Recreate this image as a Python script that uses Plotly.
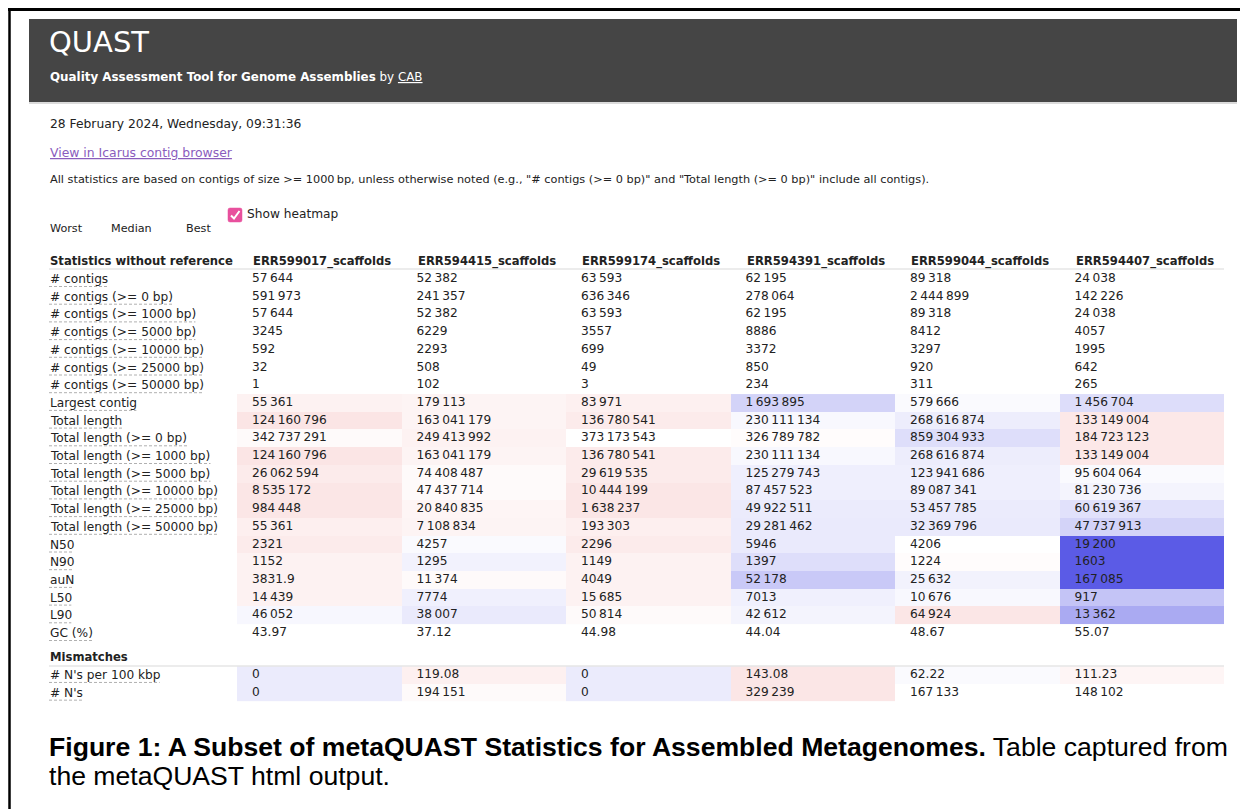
import plotly.graph_objects as go

# page is 1248x809; the HTML body adds an 8px margin, so the figure is 1240x801
PAGE_OFF = 8
FW, FH = 1240, 801

# ---------------- data ----------------
columns = ["ERR599017_scaffolds", "ERR594415_scaffolds", "ERR599174_scaffolds",
           "ERR594391_scaffolds", "ERR599044_scaffolds", "ERR594407_scaffolds"]

row_labels = ["# contigs", "# contigs (>= 0 bp)", "# contigs (>= 1000 bp)",
              "# contigs (>= 5000 bp)", "# contigs (>= 10000 bp)",
              "# contigs (>= 25000 bp)", "# contigs (>= 50000 bp)",
              "Largest contig", "Total length", "Total length (>= 0 bp)",
              "Total length (>= 1000 bp)", "Total length (>= 5000 bp)",
              "Total length (>= 10000 bp)", "Total length (>= 25000 bp)",
              "Total length (>= 50000 bp)", "N50", "N90", "auN", "L50", "L90",
              "GC (%)"]
mismatch_labels = ["# N's per 100 kbp", "# N's"]

err599017 = [57644, 591973, 57644, 3245, 592, 32, 1, 55361, 124160796, 342737291,
             124160796, 26062594, 8535172, 984448, 55361, 2321, 1152, 3831.9,
             14439, 46052, 43.97]
err594415 = [52382, 241357, 52382, 6229, 2293, 508, 102, 179113, 163041179,
             249413992, 163041179, 74408487, 47437714, 20840835, 7108834, 4257,
             1295, 11374, 7774, 38007, 37.12]
err599174 = [63593, 636346, 63593, 3557, 699, 49, 3, 83971, 136780541, 373173543,
             136780541, 29619535, 10444199, 1638237, 193303, 2296, 1149, 4049,
             15685, 50814, 44.98]
err594391 = [62195, 278064, 62195, 8886, 3372, 850, 234, 1693895, 230111134,
             326789782, 230111134, 125279743, 87457523, 49922511, 29281462, 5946,
             1397, 52178, 7013, 42612, 44.04]
err599044 = [89318, 2444899, 89318, 8412, 3297, 920, 311, 579666, 268616874,
             859304933, 268616874, 123941686, 89087341, 53457785, 32369796, 4206,
             1224, 25632, 10676, 64924, 48.67]
err594407 = [24038, 142226, 24038, 4057, 1995, 642, 265, 1456704, 133149004,
             184723123, 133149004, 95604064, 81230736, 60619367, 47737913, 19200,
             1603, 167085, 917, 13362, 55.07]
series = [err599017, err594415, err599174, err594391, err599044, err594407]

mismatch_values = [[0, 0], [119.08, 194151], [0, 0], [143.08, 329239],
                   [62.22, 167133], [111.23, 148102]]

# heatmap score: -1 worst (red) .. 0 median .. +1 best (blue)
heat_rows_start = 7  # "Largest contig"
heat = [
    [-0.08, -0.07, -0.09, 0.27, 0.03, 0.21],   # Largest contig
    [-0.16, -0.07, -0.12, 0.04, 0.11, -0.14],  # Total length
    [-0.03, -0.08, 0.00, -0.02, 0.20, -0.14],  # Total length (>= 0 bp)
    [-0.16, -0.07, -0.12, 0.04, 0.11, -0.14],  # Total length (>= 1000 bp)
    [-0.12, -0.03, -0.12, 0.10, 0.10, 0.03],   # >= 5000
    [-0.15, -0.03, -0.15, 0.10, 0.10, 0.07],   # >= 10000
    [-0.15, -0.06, -0.15, 0.12, 0.12, 0.18],   # >= 25000
    [-0.10, -0.07, -0.10, 0.13, 0.13, 0.27],   # >= 50000
    [-0.12, 0.03, -0.12, 0.13, 0.00, 1.00],    # N50
    [-0.08, 0.08, -0.08, 0.20, -0.02, 1.00],   # N90
    [-0.08, -0.03, -0.08, 0.33, 0.08, 1.00],   # auN
    [-0.08, 0.09, -0.08, 0.09, 0.04, 0.36],    # L50
    [0.05, 0.13, -0.03, 0.07, -0.15, 0.52],    # L90
]
mismatch_heat = [
    [0.12, -0.09, 0.12, -0.15, 0.03, -0.06],
    [0.12, -0.03, 0.12, -0.15, 0.00, 0.00],
]

# ---------------- layout helpers ----------------
TEXT = "#222222"
FONT = "DejaVu Sans"
FS = 12.2        # regular table text
FS_B = 11.6      # bold table headers


def px(x):
    return (x - PAGE_OFF) / FW


def py(y):
    return 1 - (y - PAGE_OFF) / FH


def fmt(v):
    if isinstance(v, float) and not v.is_integer():
        return repr(v)
    v = int(v)
    s = str(v)
    if v >= 10000:
        parts = []
        while s:
            parts.insert(0, s[-3:])
            s = s[:-3]
        s = "\u2009".join(parts)
    return s


# approximate DejaVu Sans advance widths (em) for the dotted underlines
_W = {" ": 0.318, "#": 0.838, "(": 0.390, ")": 0.390, ">": 0.838, "=": 0.838,
      "%": 0.950, "'": 0.275, "a": 0.613, "b": 0.635, "c": 0.550, "d": 0.635,
      "e": 0.615, "g": 0.635, "h": 0.634, "i": 0.278, "k": 0.579, "l": 0.278,
      "n": 0.634, "o": 0.612, "p": 0.635, "r": 0.411, "s": 0.521, "t": 0.392,
      "u": 0.634, "C": 0.698, "G": 0.775, "L": 0.557, "N": 0.748, "T": 0.611}


def text_w(s, size):
    return sum(_W.get(ch, 0.636) for ch in s) * size


# table geometry (pixels on the page)
ROW0_Y = 279.0      # centre of the first data row
ROW_H = 17.7
TAB_LEFT = 237.0    # left of first value column
COL_W = 164.5
LABEL_X = 49
PAD = 15.0
SECTION_GAP = 0.37
UNDERLINE_DY = 7.5

n_main = len(row_labels)
main_y = list(range(n_main))
mism_header_y = n_main + SECTION_GAP
mism_y = [mism_header_y + 1 + i for i in range(len(mismatch_labels))]

y_top_px, y_bot_px = 250.0, 706.0
y_top = (y_top_px - ROW0_Y) / ROW_H
y_bot = (y_bot_px - ROW0_Y) / ROW_H

ncol = len(columns)
col_x = list(range(1, ncol + 1))

fig = go.Figure()

colorscale = [[0, "rgb(230,91,91)"], [0.5, "rgb(255,255,255)"], [1, "rgb(91,91,230)"]]

fig.add_trace(go.Heatmap(
    z=heat, x=col_x, y=main_y[heat_rows_start:heat_rows_start + len(heat)],
    colorscale=colorscale, zmin=-1, zmax=1, showscale=False, hoverinfo="skip"))
fig.add_trace(go.Heatmap(
    z=mismatch_heat, x=col_x, y=mism_y,
    colorscale=colorscale, zmin=-1, zmax=1, showscale=False, hoverinfo="skip"))

# values as text
tx, ty, tt = [], [], []
pad_units = PAD / COL_W
for ci, col in enumerate(series):
    for ri, v in enumerate(col):
        tx.append(col_x[ci] - 0.5 + pad_units)
        ty.append(main_y[ri])
        tt.append(fmt(v))
    for ri, v in enumerate(mismatch_values[ci]):
        tx.append(col_x[ci] - 0.5 + pad_units)
        ty.append(mism_y[ri])
        tt.append(fmt(v))
fig.add_trace(go.Scatter(x=tx, y=ty, text=tt, mode="text", textposition="middle right",
                         textfont=dict(family=FONT, size=FS, color=TEXT),
                         hoverinfo="skip", showlegend=False))

# header names
for ci, name in enumerate(columns):
    fig.add_annotation(x=col_x[ci] - 0.5 + pad_units, y=-1, xref="x", yref="y",
                       text="<b>" + name + "</b>", showarrow=False, xanchor="left",
                       yanchor="middle", xshift=-1,
                       font=dict(family=FONT, size=FS_B, color=TEXT))

shapes = []


def label(text, yv, bold=False, underline=True):
    fig.add_annotation(x=px(LABEL_X), y=yv, xref="paper", yref="y",
                       text=("<b>%s</b>" % text) if bold else text, showarrow=False,
                       xanchor="left", yanchor="middle", xshift=-1,
                       font=dict(family=FONT, size=FS_B if bold else FS, color=TEXT))
    if underline:
        yy = yv + UNDERLINE_DY / ROW_H
        shapes.append(dict(type="line", xref="paper", yref="y", x0=px(LABEL_X),
                           x1=px(LABEL_X + text_w(text, FS)), y0=yy, y1=yy,
                           line=dict(color="#b0b0b0", width=1, dash="3px,2px")))


label("Statistics without reference", -1, bold=True, underline=False)
for ri, lab in enumerate(row_labels):
    label(lab, main_y[ri])
label("Mismatches", mism_header_y, bold=True, underline=False)
for ri, lab in enumerate(mismatch_labels):
    label(lab, mism_y[ri])

# separator lines under the section headers
for yy in (-0.57, mism_header_y + 0.5):
    shapes.append(dict(type="line", xref="paper", yref="y", x0=px(LABEL_X), x1=px(1224),
                       y0=yy, y1=yy, line=dict(color="#e6e6e6", width=1.5)))

# page chrome
shapes.append(dict(type="rect", xref="paper", yref="paper", x0=px(29), x1=px(1237),
                   y0=py(102), y1=py(19), fillcolor="#454545", line=dict(width=0),
                   layer="below"))
shapes.append(dict(type="line", xref="paper", yref="paper", x0=px(29), x1=px(1237),
                   y0=py(103), y1=py(103), line=dict(color="#cfcfcf", width=1.5)))
shapes.append(dict(type="line", xref="paper", yref="paper", x0=0, x1=1,
                   y0=py(9.5), y1=py(9.5), line=dict(color="#000000", width=3)))
shapes.append(dict(type="line", xref="paper", yref="paper", x0=px(9.5), x1=px(9.5),
                   y0=py(8), y1=0, line=dict(color="#000000", width=2.5)))
# checkbox
shapes.append(dict(type="path", xref="paper", yref="paper",
                   path="M %f,%f L %f,%f Q %f,%f %f,%f L %f,%f Q %f,%f %f,%f L %f,%f Q %f,%f %f,%f "
                        "L %f,%f Q %f,%f %f,%f Z" % (
                            px(230), py(208), px(240), py(208), px(242), py(208), px(242), py(210),
                            px(242), py(220), px(242), py(222), px(240), py(222),
                            px(230), py(222), px(228), py(222), px(228), py(220),
                            px(228), py(210), px(228), py(208), px(230), py(208)),
                   fillcolor="#e8509d", line=dict(color="#e8509d", width=0.5)))
shapes.append(dict(type="path", xref="paper", yref="paper",
                   path="M %f,%f L %f,%f L %f,%f" % (px(231), py(215.5), px(234), py(218.5),
                                                     px(239.5), py(211)),
                   line=dict(color="white", width=2)))

fig.update_layout(shapes=shapes)


def page_text(text, x, y, size, color=TEXT, family=FONT, xshift=-1):
    fig.add_annotation(x=px(x), y=py(y), xref="paper", yref="paper", text=text,
                       showarrow=False, xanchor="left", yanchor="middle", xshift=xshift,
                       font=dict(family=family, size=size, color=color))


white = "#ffffff"
page_text("QUAST", 49, 42, 29, white, xshift=-2)
page_text("<b>Quality Assessment Tool for Genome Assemblies</b> by <u>CAB</u>", 49, 77, 11.9, white)
page_text("28 February 2024, Wednesday, 09:31:36", 49, 124, 12.3)
page_text("<u>View in Icarus contig browser</u>", 49, 152, 12.4, "#8a5cbd")
page_text("All statistics are based on contigs of size >= 1000\u2009bp, unless otherwise noted "
          "(e.g., \"# contigs (>= 0 bp)\" and \"Total length (>= 0 bp)\" include all contigs).",
          49, 180, 11.3)
page_text("Show heatmap", 246, 214, 12.2)
for lab, xx in (("Worst", 49), ("Median", 110), ("Best", 185)):
    page_text(lab, xx, 228, 11.2)

CAP_FONT = "Liberation Sans"
page_text("<b>Figure 1: A Subset of metaQUAST Statistics for Assembled Metagenomes.</b> "
          "Table captured from", 49, 747, 26.6, "#000000", CAP_FONT, xshift=-2)
page_text("the metaQUAST html output.", 49, 776, 26.6, "#000000", CAP_FONT, xshift=-2)

fig.update_layout(
    width=FW, height=FH, margin=dict(l=0, r=0, t=0, b=0),
    paper_bgcolor="white", plot_bgcolor="rgba(0,0,0,0)",
    showlegend=False,
    xaxis=dict(domain=[px(TAB_LEFT), px(TAB_LEFT + COL_W * ncol)], range=[0.5, ncol + 0.5],
               visible=False, fixedrange=True),
    yaxis=dict(domain=[py(y_bot_px), py(y_top_px)], range=[y_bot, y_top],
               visible=False, fixedrange=True),
)

fig.write_html("out.html")
